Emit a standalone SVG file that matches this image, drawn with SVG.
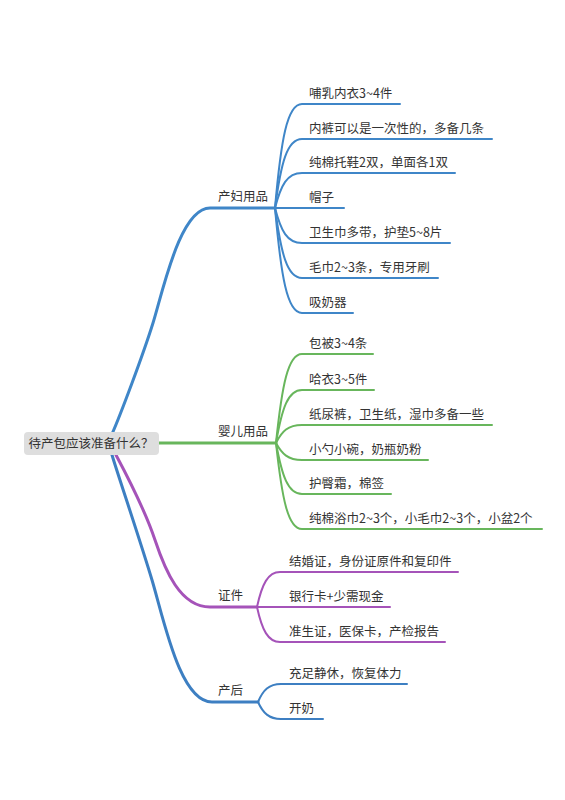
<svg xmlns="http://www.w3.org/2000/svg" width="565" height="800" viewBox="0 0 565 800">
<style>
text{font-family:"Noto Sans CJK SC","Liberation Sans",sans-serif;font-size:12.5px;fill:#333}
.main{fill:none;stroke-width:3;stroke-linecap:round}
.sub{fill:none;stroke-width:2;stroke-linecap:round}
.blue{stroke:#3f86c8}
.green{stroke:#68b65c}
.purple{stroke:#a553b9}
.blue2{stroke:#3d7fc2}
</style>
<rect width="565" height="800" fill="#ffffff"/>
<g id="connectors">
<path class="main blue" d="M112,434 C120,416 143,355 153,323 S180,208 210,208 H275"/>
<path class="main green" d="M150,443 H276"/>
<path class="main purple" d="M116,455 C124,470 145,510 155,540 S180,607 210,607 H257"/>
<path class="main blue2" d="M112,455 C118,475 140,540 152,580 S180,702 212,702 H258"/>
<g class="sub blue">
<path d="M275,208 C281,140 287,104 302,104 H400"/>
<path d="M275,208 C281,163 287,139 302,139 H492"/>
<path d="M275,208 C281,185 287,173 302,173 H455"/>
<path d="M275,208 H344"/>
<path d="M275,208 C281,231 287,243 302,243 H450"/>
<path d="M275,208 C281,253 287,278 302,278 H438"/>
<path d="M275,208 C281,276 287,313 302,313 H353"/>
</g>
<g class="sub green">
<path d="M276,443 C282,385 288,354 302,354 H373"/>
<path d="M276,443 C282,408 288,390 302,390 H374"/>
<path d="M276,443 C282,431 288,425 302,425 H492"/>
<path d="M276,443 C282,454 288,460 302,460 H428"/>
<path d="M276,443 C282,476 288,494 302,494 H391"/>
<path d="M276,443 C282,499 288,529 302,529 H542"/>
</g>
<g class="sub purple">
<path d="M257,607 C262,584 268,572 280,572 H458"/>
<path d="M257,607 H390"/>
<path d="M257,607 C262,630 268,642 280,642 H445"/>
</g>
<g class="sub blue2">
<path d="M258,702 C263,690 269,684 281,684 H407"/>
<path d="M258,702 C263,713 269,719 281,719 H323"/>
</g>
</g>
<g id="root">
<rect x="24" y="432" width="135" height="23" rx="4" fill="#dedede"/>
<text x="91" y="448" text-anchor="middle">待产包应该准备什么？</text>
</g>
<g id="branch-chanfu">
<text x="218" y="201">产妇用品</text>
<text x="309" y="98">哺乳内衣3~4件</text>
<text x="309" y="133">内裤可以是一次性的，多备几条</text>
<text x="309" y="167">纯棉托鞋2双，单面各1双</text>
<text x="309" y="202">帽子</text>
<text x="309" y="237">卫生巾多带，护垫5~8片</text>
<text x="309" y="272">毛巾2~3条，专用牙刷</text>
<text x="309" y="307">吸奶器</text>
</g>
<g id="branch-yinger">
<text x="218" y="436">婴儿用品</text>
<text x="309" y="348">包被3~4条</text>
<text x="309" y="384">哈衣3~5件</text>
<text x="309" y="419">纸尿裤，卫生纸，湿巾多备一些</text>
<text x="309" y="454">小勺小碗，奶瓶奶粉</text>
<text x="309" y="488">护臀霜，棉签</text>
<text x="309" y="523">纯棉浴巾2~3个，小毛巾2~3个，小盆2个</text>
</g>
<g id="branch-zhengjian">
<text x="218" y="600">证件</text>
<text x="289" y="566">结婚证，身份证原件和复印件</text>
<text x="289" y="601">银行卡+少需现金</text>
<text x="289" y="636">准生证，医保卡，产检报告</text>
</g>
<g id="branch-chanhou">
<text x="218" y="695">产后</text>
<text x="289" y="678">充足静休，恢复体力</text>
<text x="289" y="713">开奶</text>
</g>
</svg>
